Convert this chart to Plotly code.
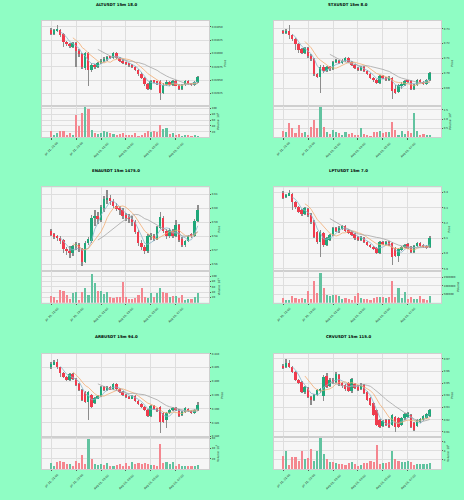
import plotly.graph_objects as go
import pandas as pd

titles = ["ALTUSDT 15m 18.0", "STXUSDT 15m 8.0", "ENAUSDT 15m 1475.0",
          "LPTUSDT 15m 7.0", "ARBUSDT 15m 94.0", "CRVUSDT 15m 115.0"]

times = pd.date_range("2025-07-31 21:00", periods=48, freq="15min")
tick_index = [0, 8, 16, 24, 32, 40]
tick_labels = [times[i].strftime("%b %d, %H:%M") for i in tick_index]

alt_open = [0.03044,0.03037,0.03043,0.03044,0.03037,0.03022,0.03018,0.03013,0.03020,0.03005,
0.02999,0.02973,0.03001,0.02969,0.02979,0.02975,0.02983,0.02986,0.02990,0.02994,
0.02992,0.03001,0.02992,0.02986,0.02983,0.02981,0.02979,0.02975,0.02969,0.02962,
0.02954,0.02943,0.02934,0.02949,0.02947,0.02949,0.02926,0.02941,0.02947,0.02941,
0.02949,0.02939,0.02934,0.02941,0.02949,0.02943,0.02941,0.02947]
alt_close = [0.03037,0.03044,0.03046,0.03035,0.03022,0.03018,0.03014,0.03020,0.03005,0.02999,
0.02975,0.03001,0.02969,0.02979,0.02975,0.02983,0.02986,0.02990,0.02994,0.02992,
0.03001,0.02992,0.02986,0.02983,0.02981,0.02979,0.02975,0.02969,0.02962,0.02954,
0.02943,0.02934,0.02949,0.02947,0.02945,0.02926,0.02941,0.02947,0.02941,0.02949,
0.02939,0.02934,0.02941,0.02949,0.02943,0.02941,0.02947,0.02956]
alt_high = [0.03048,0.03046,0.03054,0.03046,0.03039,0.03024,0.03020,0.03022,0.03022,0.03009,
0.03001,0.03003,0.03003,0.02983,0.02981,0.02984,0.02990,0.02994,0.02996,0.02996,
0.03003,0.03003,0.02994,0.02990,0.02984,0.02983,0.02981,0.02977,0.02971,0.02966,
0.02956,0.02945,0.02951,0.02951,0.02949,0.02951,0.02945,0.02951,0.02949,0.02951,
0.02951,0.02943,0.02943,0.02951,0.02951,0.02945,0.02949,0.02958]
alt_low = [0.03035,0.03035,0.03041,0.03031,0.03013,0.03014,0.03011,0.03011,0.02975,0.02994,
0.02971,0.02969,0.02939,0.02966,0.02971,0.02973,0.02981,0.02984,0.02986,0.02990,
0.02990,0.02990,0.02984,0.02981,0.02979,0.02975,0.02973,0.02968,0.02958,0.02953,
0.02939,0.02932,0.02932,0.02945,0.02941,0.02913,0.02924,0.02938,0.02938,0.02939,
0.02938,0.02932,0.02932,0.02939,0.02941,0.02939,0.02939,0.02945]
alt_volume = [23,10,17,25,25,11,18,11,80,42,86,106,101,28,17,12,17,25,20,17,12,9,14,17,
9,11,9,17,6,11,17,23,20,23,21,46,29,34,14,17,9,12,8,11,10,8,9,6]

stx_open = [0.7278,0.7271,0.7285,0.7258,0.7231,0.7198,0.7165,0.7138,0.7171,0.7118,
0.7098,0.6998,0.6978,0.7045,0.7018,0.7045,0.7031,0.7078,0.7085,0.7071,
0.7085,0.7105,0.7078,0.7058,0.7038,0.7025,0.7045,0.7018,0.6998,0.6971,
0.6958,0.6938,0.6985,0.6971,0.6958,0.6971,0.6898,0.6878,0.6918,0.6925,
0.6951,0.6951,0.6898,0.6925,0.6958,0.6945,0.6931,0.6958]
stx_close = [0.7271,0.7285,0.7258,0.7231,0.7198,0.7158,0.7138,0.7171,0.7118,0.7098,
0.6998,0.6978,0.7045,0.7018,0.7045,0.7031,0.7078,0.7085,0.7071,0.7085,
0.7105,0.7078,0.7058,0.7038,0.7025,0.7045,0.7018,0.6998,0.6971,0.6958,
0.6938,0.6985,0.6971,0.6958,0.6978,0.6885,0.6871,0.6925,0.6931,0.6951,
0.6945,0.6898,0.6925,0.6958,0.6945,0.6931,0.6958,0.7005]
stx_high = [0.7291,0.7298,0.7325,0.7265,0.7238,0.7205,0.7171,0.7178,0.7178,0.7131,
0.7105,0.7005,0.7058,0.7058,0.7051,0.7051,0.7085,0.7098,0.7091,0.7098,
0.7111,0.7111,0.7085,0.7065,0.7045,0.7051,0.7051,0.7025,0.7005,0.6978,
0.6965,0.6991,0.6991,0.6978,0.6985,0.6978,0.6925,0.6931,0.6945,0.6958,
0.6958,0.6958,0.6931,0.6965,0.6965,0.6951,0.6965,0.7011]
stx_low = [0.7265,0.7265,0.7231,0.7218,0.7158,0.7138,0.7131,0.7131,0.7105,0.7085,
0.6985,0.6971,0.6871,0.7005,0.7011,0.7018,0.7025,0.7071,0.7065,0.7065,
0.7078,0.7071,0.7051,0.7031,0.7018,0.7018,0.7011,0.6991,0.6965,0.6945,
0.6931,0.6931,0.6965,0.6951,0.6951,0.6831,0.6865,0.6871,0.6898,0.6918,
0.6938,0.6891,0.6891,0.6918,0.6938,0.6925,0.6925,0.6951]
stx_volume = [0.36,0.33,0.82,0.55,0.27,0.73,0.27,0.33,0.15,0.58,1.0,0.55,1.67,0.58,0.33,0.22,
0.45,0.33,0.27,0.18,0.3,0.2,0.25,0.18,0.15,0.55,0.22,0.15,0.1,0.33,0.33,0.36,0.27,0.33,
0.33,0.87,0.45,0.15,0.36,0.22,0.36,0.27,1.36,0.4,0.18,0.22,0.15,0.18]

ena_open = [0.5838,0.5816,0.5795,0.5788,0.5774,0.5709,0.5695,0.5681,0.5731,0.5738,
0.5709,0.5616,0.5752,0.5766,0.5931,0.5945,0.5916,0.6002,0.6059,0.6074,
0.6052,0.6016,0.5995,0.5988,0.5952,0.5938,0.5924,0.5902,0.5831,0.5752,
0.5724,0.5695,0.5795,0.5802,0.5781,0.5859,0.5931,0.5838,0.5802,0.5838,
0.5802,0.5881,0.5781,0.5738,0.5766,0.5816,0.5802,0.5909]
ena_close = [0.5809,0.5795,0.5788,0.5766,0.5709,0.5695,0.5681,0.5731,0.5745,0.5709,
0.5616,0.5752,0.5781,0.5931,0.5945,0.5924,0.6009,0.6066,0.6074,0.6052,
0.6016,0.5995,0.5988,0.5945,0.5931,0.5924,0.5902,0.5831,0.5752,0.5724,
0.5695,0.5802,0.5802,0.5781,0.5866,0.5938,0.5838,0.5802,0.5845,0.5802,
0.5881,0.5774,0.5738,0.5766,0.5802,0.5802,0.5909,0.5988]
ena_high = [0.5852,0.5824,0.5809,0.5802,0.5781,0.5724,0.5731,0.5738,0.5759,0.5752,
0.5716,0.5766,0.5795,0.5952,0.5988,0.5974,0.6024,0.6088,0.6131,0.6095,
0.6066,0.6038,0.6016,0.6002,0.5966,0.5959,0.5945,0.5916,0.5845,0.5774,
0.5738,0.5816,0.5824,0.5816,0.5874,0.5974,0.5945,0.5852,0.5859,0.5852,
0.5916,0.5888,0.5795,0.5774,0.5809,0.5824,0.5924,0.6024]
ena_low = [0.5802,0.5781,0.5766,0.5745,0.5681,0.5666,0.5645,0.5659,0.5702,0.5688,
0.5588,0.5609,0.5738,0.5752,0.5874,0.5888,0.5902,0.5974,0.6031,0.6024,
0.6002,0.5981,0.5952,0.5924,0.5909,0.5895,0.5874,0.5816,0.5731,0.5702,
0.5674,0.5681,0.5774,0.5766,0.5774,0.5852,0.5824,0.5781,0.5788,0.5788,
0.5795,0.5759,0.5724,0.5724,0.5759,0.5788,0.5795,0.5902]
ena_volume = [25,22,10,48,44,31,15,38,40,12,40,56,30,110,75,44,44,35,41,22,19,22,22,80,
22,15,15,19,31,56,22,19,38,22,38,56,40,38,22,25,25,19,28,12,15,15,22,38]

lpt_open = [6.395,6.369,6.382,6.389,6.337,6.304,6.284,6.258,6.291,6.252,
6.206,6.140,6.075,6.134,6.055,6.088,6.121,6.167,6.147,6.160,
6.180,6.153,6.140,6.127,6.108,6.088,6.101,6.075,6.055,6.042,
6.036,6.003,6.075,6.062,6.075,6.068,6.036,5.983,6.023,6.042,
6.062,6.042,6.010,6.049,6.068,6.055,6.042,6.042]
lpt_close = [6.363,6.382,6.395,6.337,6.304,6.271,6.258,6.297,6.252,6.206,
6.108,6.075,6.140,6.055,6.101,6.121,6.167,6.147,6.167,6.180,
6.147,6.134,6.121,6.101,6.088,6.108,6.075,6.055,6.042,6.029,
6.003,6.075,6.062,6.075,6.055,5.977,5.983,6.029,6.042,6.055,
6.036,6.010,6.049,6.068,6.049,6.042,6.036,6.101]
lpt_high = [6.408,6.389,6.415,6.395,6.343,6.310,6.291,6.304,6.297,6.265,
6.219,6.147,6.153,6.140,6.108,6.127,6.173,6.173,6.180,6.186,
6.186,6.160,6.147,6.134,6.114,6.114,6.108,6.082,6.062,6.049,
6.042,6.082,6.082,6.082,6.082,6.075,6.042,6.036,6.049,6.062,
6.068,6.049,6.055,6.075,6.075,6.062,6.055,6.114]
lpt_low = [6.356,6.363,6.376,6.284,6.291,6.265,6.245,6.252,6.238,6.193,
6.101,6.062,5.977,6.042,6.049,6.082,6.114,6.140,6.134,6.153,
6.140,6.127,6.114,6.088,6.082,6.082,6.068,6.049,6.036,6.023,
5.996,5.996,6.055,6.055,6.049,5.925,5.977,5.944,6.016,6.036,
6.029,6.003,6.003,6.042,6.042,6.036,6.029,6.036]
lpt_volume = [290000,160000,160000,430000,290000,240000,290000,240000,690000,200000,
1270000,590000,1760000,880000,490000,390000,490000,490000,390000,200000,
290000,240000,160000,390000,590000,290000,240000,200000,160000,290000,
340000,340000,340000,290000,340000,1270000,340000,850000,290000,640000,
240000,340000,240000,200000,390000,200000,160000,390000]

arb_open = [0.4052,0.4063,0.4070,0.4052,0.4030,0.4016,0.4005,0.4027,0.4009,0.3991,
0.3970,0.3963,0.3927,0.3952,0.3923,0.3941,0.3948,0.3980,0.3970,0.3980,
0.3973,0.3991,0.3973,0.3963,0.3952,0.3945,0.3941,0.3948,0.3930,0.3920,
0.3909,0.3898,0.3877,0.3913,0.3902,0.3909,0.3888,0.3863,0.3888,0.3898,
0.3905,0.3898,0.3880,0.3891,0.3902,0.3895,0.3888,0.3898]
arb_close = [0.4066,0.4070,0.4052,0.4030,0.4016,0.4005,0.4027,0.4009,0.3988,0.3970,
0.3934,0.3927,0.3963,0.3909,0.3941,0.3948,0.3980,0.3970,0.3980,0.3973,
0.3991,0.3973,0.3963,0.3952,0.3945,0.3941,0.3948,0.3930,0.3920,0.3909,
0.3898,0.3877,0.3913,0.3902,0.3895,0.3855,0.3855,0.3888,0.3898,0.3905,
0.3898,0.3877,0.3891,0.3905,0.3895,0.3888,0.3898,0.3916]
arb_high = [0.4070,0.4077,0.4084,0.4055,0.4034,0.4020,0.4030,0.4030,0.4013,0.3995,
0.3973,0.3966,0.3966,0.3955,0.3945,0.3952,0.3984,0.3984,0.3984,0.3984,
0.3995,0.3995,0.3977,0.3966,0.3955,0.3948,0.3952,0.3952,0.3934,0.3923,
0.3913,0.3902,0.3916,0.3916,0.3905,0.3913,0.3891,0.3891,0.3902,0.3909,
0.3909,0.3902,0.3895,0.3909,0.3905,0.3898,0.3902,0.3927]
arb_low = [0.4048,0.4059,0.4048,0.4016,0.4013,0.4002,0.4002,0.4005,0.3984,0.3966,
0.3930,0.3923,0.3863,0.3905,0.3920,0.3938,0.3945,0.3966,0.3966,0.3970,
0.3970,0.3970,0.3959,0.3948,0.3941,0.3938,0.3938,0.3927,0.3916,0.3905,
0.3895,0.3873,0.3873,0.3898,0.3891,0.3816,0.3852,0.3834,0.3884,0.3895,
0.3895,0.3873,0.3877,0.3888,0.3891,0.3884,0.3884,0.3895]
arb_volume = [11,6,14,16,14,10,10,6,16,11,27,10,58,19,10,8,10,8,11,5,6,8,10,6,
11,6,14,10,11,10,11,10,8,8,6,48,11,14,10,13,6,10,5,6,5,5,5,8]

crv_open = [0.9645,0.9637,0.9670,0.9637,0.9596,0.9531,0.9514,0.9433,0.9465,0.9392,
0.9367,0.9408,0.9441,0.9400,0.9563,0.9482,0.9531,0.9514,0.9572,0.9506,
0.9490,0.9506,0.9441,0.9498,0.9482,0.9457,0.9490,0.9433,0.9383,0.9343,
0.9285,0.9204,0.9155,0.9204,0.9204,0.9163,0.9228,0.9220,0.9163,0.9220,
0.9228,0.9244,0.9179,0.9155,0.9187,0.9204,0.9220,0.9236]
crv_close = [0.9629,0.9670,0.9637,0.9596,0.9531,0.9506,0.9433,0.9473,0.9392,0.9367,
0.9408,0.9449,0.9457,0.9555,0.9473,0.9531,0.9514,0.9580,0.9498,0.9482,
0.9457,0.9441,0.9539,0.9465,0.9449,0.9490,0.9424,0.9367,0.9326,0.9244,
0.9163,0.9146,0.9195,0.9163,0.9146,0.9244,0.9146,0.9146,0.9220,0.9253,
0.9261,0.9146,0.9122,0.9204,0.9212,0.9236,0.9253,0.9285]
crv_high = [0.9662,0.9702,0.9694,0.9645,0.9604,0.9539,0.9522,0.9482,0.9473,0.9400,
0.9416,0.9457,0.9465,0.9572,0.9588,0.9547,0.9547,0.9596,0.9580,0.9514,
0.9498,0.9514,0.9547,0.9506,0.9490,0.9506,0.9498,0.9441,0.9392,0.9351,
0.9293,0.9212,0.9204,0.9212,0.9212,0.9253,0.9236,0.9228,0.9228,0.9261,
0.9269,0.9253,0.9187,0.9212,0.9220,0.9244,0.9261,0.9293]
crv_low = [0.9621,0.9629,0.9629,0.9588,0.9522,0.9498,0.9424,0.9416,0.9383,0.9326,
0.9359,0.9400,0.9424,0.9359,0.9465,0.9473,0.9498,0.9506,0.9482,0.9465,
0.9441,0.9433,0.9424,0.9457,0.9441,0.9449,0.9416,0.9359,0.9318,0.9236,
0.9155,0.9138,0.9146,0.9155,0.9138,0.9155,0.9105,0.9138,0.9155,0.9204,
0.9220,0.9138,0.9114,0.9146,0.9179,0.9195,0.9212,0.9228]
crv_volume = [2.9,3.8,0.9,2.5,2.5,1.8,3.8,2.2,2.3,4.35,1.8,4.0,6.7,3.3,2.2,1.45,1.45,1.3,
1.1,1.1,0.9,1.3,1.45,1.1,0.7,0.9,1.3,1.3,1.8,1.6,5.2,1.1,1.3,1.3,1.45,4.0,2.2,1.8,1.6,
1.45,1.8,1.45,0.9,1.1,1.1,1.1,1.1,1.3]

price_ticks = [
    [0.02925, 0.0295, 0.02975, 0.03, 0.03025, 0.0305],
    [0.69, 0.70, 0.71, 0.72, 0.73],
    [0.56, 0.57, 0.58, 0.59, 0.60, 0.61],
    [5.9, 6.0, 6.1, 6.2, 6.3, 6.4],
    [0.380, 0.385, 0.390, 0.395, 0.400, 0.405, 0.410],
    [0.91, 0.92, 0.93, 0.94, 0.95, 0.96, 0.97],
]
volume_ticks = [
    [20, 40, 60, 80, 100],
    [0.5, 1.0, 1.5],
    [20, 40, 60, 80, 100],
    [500000, 1000000, 1500000],
    [20, 40, 60],
    [2, 4, 6],
]

series = [
    (alt_open, alt_high, alt_low, alt_close, alt_volume),
    (stx_open, stx_high, stx_low, stx_close, stx_volume),
    (ena_open, ena_high, ena_low, ena_close, ena_volume),
    (lpt_open, lpt_high, lpt_low, lpt_close, lpt_volume),
    (arb_open, arb_high, arb_low, arb_close, arb_volume),
    (crv_open, crv_high, crv_low, crv_close, crv_volume),
]

# ---- style / layout settings ----
price_range = [[0.029019, 0.030613], [0.67844, 0.73513], [0.55524, 0.61521],
               [5.8853, 6.4347], [0.37975, 0.41005], [0.90562, 0.97434]]
price_fmt = [".5f", ".2f", ".2f", ".1f", ".3f", ".2f"]
vol_range = [[0, 110], [0, 1.74], [0, 120], [0, 1.88e6], [0, 62], [0, 6.96]]
vol_fmt = ["d", ".1f", "d", "d", "d", "d"]
vol_title = ["Volume  10<sup>5</sup>", "Volume  10<sup>6</sup>", "Volume  10<sup>5</sup>",
             "Volume", "Volume  10<sup>5</sup>", "Volume  10<sup>6</sup>"]

BG = "rgb(143,253,196)"
PLOT_BG = "#f6f6f6"
GRID = "#dedede"
UP, DOWN = "#1fa77a", "#ef3b4d"
VUP, VDOWN = "#62c3a0", "#f4868f"
WICK = "#8c8c8c"
MA_PERIODS = [4, 8, 16]
MA_COLORS = ["#8ab8cc", "#f2ad74", "#a6a6a6"]
FONT = "DejaVu Sans"

W, H = 464, 500
col_x = [(42, 209), (274, 441)]
row_y = [(20, 105, 137), (187, 271, 303), (354, 438, 470)]
title_y = [3.5, 170, 336.5]
title_x = [116, 348]

fig = go.Figure()
line_traces = []
layout = dict()
annotations = []
n = len(times)
idx = list(range(n))
xr = [-2.9, 50.6]

for k, (o, h, l, c, v) in enumerate(series):
    row, col = k // 2, k % 2
    pa, va = 2 * k + 1, 2 * k + 2
    xp, yp = ("x" if pa == 1 else f"x{pa}"), ("y" if pa == 1 else f"y{pa}")
    xv, yv = f"x{va}", f"y{va}"
    up = [ci >= oi for oi, ci in zip(o, c)]
    span = price_range[k][1] - price_range[k][0]
    minh = span * 0.008

    fig.add_trace(go.Bar(x=idx, y=[hi - lo for hi, lo in zip(h, l)], base=l, width=0.18,
                         marker=dict(color=WICK, line=dict(width=0)),
                         xaxis=xp, yaxis=yp, hoverinfo="skip"))
    fig.add_trace(go.Bar(x=idx, y=[max(abs(ci - oi), minh) for oi, ci in zip(o, c)],
                         base=[min(oi, ci) for oi, ci in zip(o, c)], width=0.62,
                         marker=dict(color=[UP if u else DOWN for u in up], line=dict(width=0)),
                         xaxis=xp, yaxis=yp))
    fig.add_trace(go.Bar(x=idx, y=v, width=0.68,
                         marker=dict(color=[VUP if u else VDOWN for u in up], line=dict(width=0)),
                         xaxis=xv, yaxis=yv))
    cs = pd.Series(c)
    for m, mc in zip(MA_PERIODS, MA_COLORS):
        ma = cs.rolling(m).mean()
        line_traces.append(go.Scatter(x=idx, y=[None if pd.isna(z) else z for z in ma],
                                      mode="lines", line=dict(color=mc, width=0.8),
                                      xaxis=xp, yaxis=yp))

    x0, x1 = col_x[col]
    top, div, bot = row_y[row]
    xd = [x0 / W, x1 / W]
    common_axis = dict(showline=True, linecolor="#cfcfcf", linewidth=0.6, mirror=True,
                       zeroline=False, gridcolor=GRID, gridwidth=0.5)
    layout["xaxis" if pa == 1 else f"xaxis{pa}"] = dict(
        domain=xd, anchor=yp, range=xr, tickvals=tick_index, showticklabels=False,
        ticks="", matches=xv, **common_axis)
    layout[f"xaxis{va}"] = dict(
        domain=xd, anchor=yv, range=xr, tickvals=tick_index, showticklabels=False,
        ticks="outside", ticklen=1.5, tickwidth=0.5, tickcolor="#555", **common_axis)
    layout["yaxis" if pa == 1 else f"yaxis{pa}"] = dict(
        domain=[1 - div / H, 1 - top / H], anchor=xp, side="right", range=price_range[k],
        tickvals=price_ticks[k], tickformat=price_fmt[k], ticks="outside", ticklen=1.5,
        tickwidth=0.5, tickcolor="#555", tickfont=dict(size=2.6, family=FONT, color="#222"),
        title=dict(text="Price", font=dict(size=2.8, family=FONT, color="#222"), standoff=0.5),
        **common_axis)
    layout[f"yaxis{va}"] = dict(
        domain=[1 - bot / H, 1 - div / H], anchor=xv, side="right", range=vol_range[k],
        tickvals=volume_ticks[k], tickformat=vol_fmt[k], ticks="outside", ticklen=1.5,
        tickwidth=0.5, tickcolor="#555", tickfont=dict(size=2.6, family=FONT, color="#222"),
        title=dict(text=vol_title[k], font=dict(size=2.8, family=FONT, color="#222"), standoff=0.5),
        **common_axis)

    annotations.append(dict(text=f"<b>{titles[k]}</b>", xref="paper", yref="paper",
                            x=title_x[col] / W, y=1 - title_y[row] / H, xanchor="center",
                            yanchor="middle", showarrow=False,
                            font=dict(size=3.9, family=FONT, color="#000")))
    for ti, tl in zip(tick_index, tick_labels):
        annotations.append(dict(text=tl, xref=xv, yref="paper", x=ti, y=1 - (bot + 2.5) / H,
                                xanchor="center", yanchor="top", textangle=-45,
                                showarrow=False, borderpad=0,
                                font=dict(size=2.8, family=FONT, color="#222")))

for t in line_traces:
    fig.add_trace(t)

fig.update_layout(
    width=W, height=H, margin=dict(l=0, r=0, t=0, b=0, pad=0),
    paper_bgcolor=BG, plot_bgcolor=PLOT_BG, showlegend=False, barmode="overlay",
    bargap=0, annotations=annotations, font=dict(family=FONT), **layout)

fig.write_html("out.html")
